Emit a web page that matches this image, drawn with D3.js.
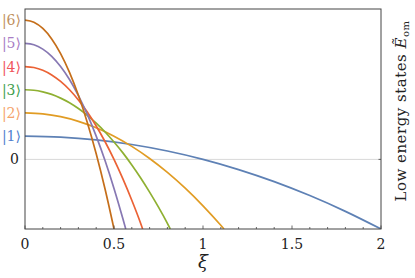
<!DOCTYPE html>
<html><head><meta charset="utf-8">
<script src="https://cdn.jsdelivr.net/npm/d3@7"></script>
<style>
body{margin:0;background:#fff;}
svg{display:block;}
</style></head>
<body><svg id="c" width="415" height="278" style="font-family:'DejaVu Serif', serif"></svg>
<script>
// ---- data ----
const stateLabels = ["|1\u27E9","|2\u27E9","|3\u27E9","|4\u27E9","|5\u27E9","|6\u27E9"];
const stateLevels = [1,2,3,4,5,6];
const xiTicks = [0,0.5,1,1.5,2];
const xiTickLabels = ["0","0.5","1","1.5","2"];

const xi1 = [0,0.2,0.4,0.6,0.8,1.0,1.2,1.4,1.6,1.8,2.0];
const E1  = [1,0.96,0.84,0.64,0.36,0,-0.44,-0.96,-1.56,-2.24,-3];
const xi2 = [0,0.1,0.2,0.3,0.4,0.5,0.6,0.7,0.8,0.9,1.0,1.1,1.118];
const E2  = [2,1.96,1.84,1.64,1.36,1.0,0.56,0.04,-0.56,-1.24,-2.0,-2.84,-3];
const xi3 = [0,0.05,0.1,0.15,0.2,0.25,0.3,0.35,0.4,0.45,0.5,0.55,0.6,0.65,0.7,0.75,0.8,0.816];
const E3  = [3,2.98,2.91,2.80,2.64,2.44,2.19,1.90,1.56,1.18,0.75,0.28,-0.24,-0.80,-1.41,-2.06,-2.76,-3];
const xi4 = [0,0.05,0.1,0.15,0.2,0.25,0.3,0.35,0.4,0.45,0.5,0.55,0.6,0.65,0.661];
const E4  = [4,3.96,3.84,3.64,3.36,3.0,2.56,2.04,1.44,0.76,0,-0.84,-1.76,-2.76,-3];
const xi5 = [0,0.05,0.1,0.15,0.2,0.25,0.3,0.35,0.4,0.45,0.5,0.55,0.566];
const E5  = [5,4.94,4.75,4.44,4.0,3.44,2.75,1.94,1.0,-0.06,-1.25,-2.56,-3];
const xi6 = [0,0.05,0.1,0.15,0.2,0.25,0.3,0.35,0.4,0.45,0.5];
const E6  = [6,5.91,5.64,5.19,4.56,3.75,2.76,1.59,0.24,-1.29,-3];

const lineColors  = ["#5E81B5","#E19C24","#8FB032","#EB6235","#8778B3","#C56E1A"];
const labelColors = ["#4f7fcf","#f5a36b","#3f9f4f","#f0545a","#a87cc5","#c09060"];

const seriesXi = [xi1,xi2,xi3,xi4,xi5,xi6];
const seriesE  = [E1,E2,E3,E4,E5,E6];

// ---- layout ----
const L=25, R=381, T=9, B=229;
const svg = d3.select("#c");
const x = d3.scaleLinear().domain([0,2]).range([L,R]);
const y = d3.scaleLinear().domain([-3,6.48]).range([B,T]);

svg.append("defs").append("clipPath").attr("id","clip")
  .append("rect").attr("x",L).attr("y",T).attr("width",R-L).attr("height",B-T);

svg.append("line").attr("x1",L).attr("x2",R).attr("y1",y(0)).attr("y2",y(0))
  .attr("stroke","#d8d8d8").attr("stroke-width",1);

const line = d3.line().x(d=>x(d[0])).y(d=>y(d[1])).curve(d3.curveMonotoneX);
const g = svg.append("g").attr("clip-path","url(#clip)");
seriesXi.forEach((xs,i)=>{
  const pts = xs.map((v,j)=>[v,seriesE[i][j]]);
  g.append("path").attr("d",line(pts)).attr("fill","none")
    .attr("stroke",lineColors[i]).attr("stroke-width",1.7);
});

svg.append("rect").attr("x",L).attr("y",T).attr("width",R-L).attr("height",B-T)
  .attr("fill","none").attr("stroke","#444").attr("stroke-width",1);

const minor = d3.range(0,2.0001,0.1);
svg.append("g").selectAll("line").data(minor).join("line")
  .attr("x1",d=>x(d)).attr("x2",d=>x(d))
  .attr("y1",B).attr("y2",(d,i)=> i%5===0 ? B-3.5 : B-2)
  .attr("stroke","#444").attr("stroke-width",0.8);
svg.append("line").attr("x1",R).attr("x2",R-2.5).attr("y1",y(0)).attr("y2",y(0))
  .attr("stroke","#444").attr("stroke-width",0.8);

svg.append("g").selectAll("text").data(xiTicks).join("text")
  .attr("x",d=>x(d)).attr("y",249).attr("text-anchor","middle")
  .attr("font-size",14).attr("fill","#222")
  .text((d,i)=>xiTickLabels[i]);

svg.append("text").attr("x",x(1)).attr("y",268).attr("text-anchor","middle")
  .attr("font-size",18).attr("font-style","italic").attr("fill","#222").text("\u03BE");

svg.append("g").selectAll("text").data(stateLevels).join("text")
  .attr("x",21).attr("y",d=>y(d)+5).attr("text-anchor","end")
  .attr("font-size",14).attr("fill",(d,i)=>labelColors[i])
  .text((d,i)=>stateLabels[i]);
svg.append("text").attr("x",19).attr("y",y(0)+5).attr("text-anchor","end")
  .attr("font-size",14).attr("fill","#222").text("0");

const t = svg.append("text").attr("transform","translate(406,111) rotate(-90)")
  .attr("text-anchor","middle").attr("font-size",15).attr("letter-spacing",0.5).attr("fill","#222");
t.append("tspan").text("Low energy states ");
t.append("tspan").attr("font-style","italic").text("E\u0303");
t.append("tspan").attr("font-size",10).attr("dy",3).text("om");
</script></body></html>
